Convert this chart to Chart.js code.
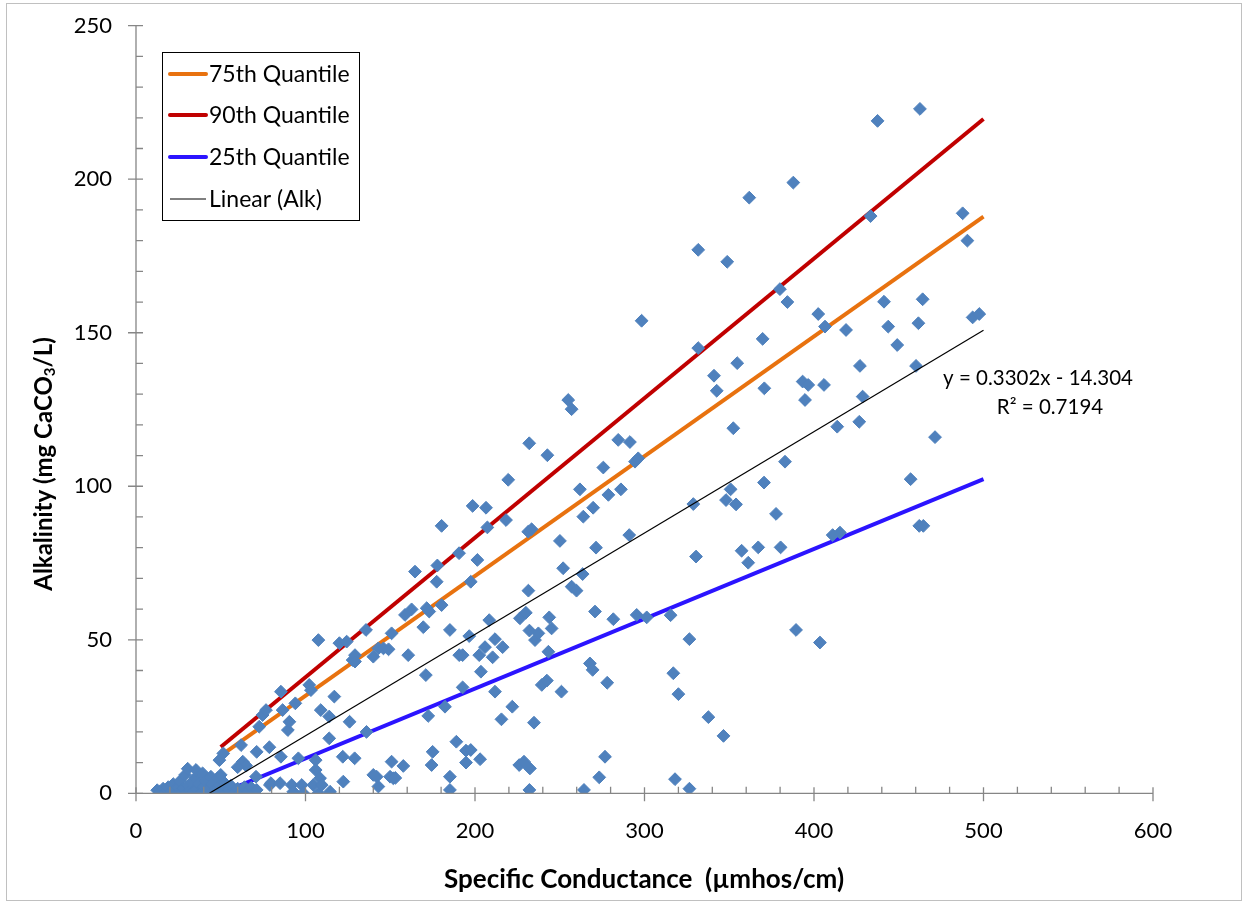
<!DOCTYPE html>
<html><head><meta charset="utf-8">
<script src="https://cdn.jsdelivr.net/npm/chart.js@4/dist/chart.umd.min.js"></script>
<style>html,body{margin:0;padding:0;background:#fff}#wrap{width:1247px;height:906px;position:relative}</style>
</head><body><div id="wrap"><canvas id="c" width="1247" height="906"></canvas></div>
<script>
// ---- data ----
const alkData = [
[12.5,1],[14,0.5],[16,1.5],[17,0],[18.5,0.8],[19,2],[20.5,0],[21,0.5],[22,3],[23,1],[24,0],[25,2],[26,4],[27,0.5],[28,1.5],[29,6],[30,0],[30.5,8],[31,2.5],[32,1],[33,3.5],[34,0.5],[35,5],[35.4,7.6],[36,1.5],[37,3],[38,0],[39.3,6.5],[40,2],[41,4],[42,0.5],[43,1.5],[44.2,5.4],[45,3],[46,0],[47,1.2],[48.2,4.9],[49,2.5],[50,0.3],[51,1.5],[52,3.5],[53,0],[55,1],[56,2.5],[58,0.3],[60,1.5],[62,0.5],[64,2],[66,0.3],[68,1.8],[71.2,1.1],
[49.2,10.8],[51.5,13],[50,6],[62,15.7],[63,10.3],[65,9],[60,8.5],[71.2,13.5],[72.7,21.7],[74.7,25.5],[76.7,27.1],[78.7,15],[70.8,5.4],[79,2.7],[79.6,3.3],[85,3.3],[85.5,33.1],[86.5,27.1],[85.5,11.9],[89.6,20.6],[90.5,23.3],[91.9,2.7],[92.8,0.5],[94,29.3],[95.8,11.4],[97.8,2.7],[98.7,0],[102.2,35.3],[103.2,33.6],[104.6,2.7],[106,10.8],[106,7.6],[107.6,49.9],[107.6,0],[108.6,4.9],[109,27.1],[109.6,2.7],[114,25],[114,17.9],[114.5,0.5],[117,31.5],[120,48.9],[122,11.9],[122.3,3.8],[124.3,49.4],[126,23.3],[127.8,43.4],[129.2,45],[129.2,42.9],[129,11.4],[136,20],[135.7,53.2],[140,44.5],[140,6],[143,47.2],[143,2.2],[142,5.4],[146,47.2],[149,46.9],[149.9,5.4],[150.8,52.1],[150.8,10.3],[151.8,4.9],[153,5],[157.7,8.9],[158.7,58.1],[162.6,59.9],[160.6,45],[164.6,72.2],[169.5,54.1],[171,38.5],[171.5,60.3],[173,59.2],[172.4,25.2],[174.4,9.2],[175,13.5],[177.8,74.2],[177.4,68.9],[180.3,61.3],[180.3,87.1],[182.3,28.2],[185.2,53.2],[185.2,5.4],[185.2,1.1],[189,16.8],[190.6,78.2],[190.7,45],[192.7,45],[192.7,34.5],[194.7,13.9],[194.7,10],[196.6,51.2],[197.5,68.9],[197.5,14.1],[198.6,93.6],[201.4,76],[202.5,45],[203.5,39.6],[203,11.1],[205.9,47.6],[206.5,93],[207.3,86.6],[208.4,56.4],[210.4,44.3],[211.8,50.2],[211.8,33.1],[215.6,24.1],[216.3,47.6],[218.3,89],[219.6,102.1],[222,28.2],[226.1,9.2],[226.5,57],[228.9,10.3],[230,58.8],[231.5,66],[231.4,85.2],[232,114],[232.1,53],[232.4,8.1],[232.1,1.1],[233.4,86],[234.8,23],[235.4,49.9],[237.4,52.1],[239.4,35.3],[242.4,36.7],[242.7,110.1],[243.3,46.1],[243.8,57.3],[245.2,53.7],[250.1,82.2],[251,33.1],[252,73.3],[255,128.1],[257,125.1],[257,67.3],[259.9,66],[261.9,99],[263.5,71.4],[263.9,90.1],[264.3,1.1],[267.8,42.3],[269.4,40.2],[269.7,93],[270.8,59.2],[271.4,80],[273.3,5.2],[275.7,106.1],[276.7,11.9],[278,36],[278.7,97.2],[281.6,56.7],[284.5,115.1],[286.1,99],[291,84.1],[291.4,114.4],[294.4,108],[295.4,58.1],[296.3,109.1],[298.3,153.9],[301.3,57.3],[315.4,58],[317,39.1],[318,4.6],[320,32.3],[326.5,50.2],[326.5,1.5],[328.8,94.2],[330.4,77.1],[331.7,177],[331.7,145],[337.7,24.8],[341,136],[342.6,131.1],[346.6,18.7],[348.1,95.5],[348.8,173.1],[350.8,99],[352.4,118.9],[354,94.1],[354.7,140.1],[357.3,79],[361.2,75.1],[361.8,194],[367.1,80.1],[369.7,148],[370.5,101.2],[370.7,131.9],[377.6,91],[379.9,164.2],[380.3,80.1],[382.9,108],[384.3,160],[387.8,198.9],[389.4,53.2],[393.3,134.1],[394.7,128.1],[396.6,133],[402.5,156.1],[403.5,49.1],[405.9,133],[406.5,152],[411,84.1],[413.7,119.4],[415.3,84.9],[418.9,150.9],[426.7,121],[427.1,139.2],[428.7,129.2],[433.4,188],[437.5,219],[441.3,160.1],[443.8,152],[449.1,146],[457,102.3],[460.2,139.2],[461.6,153.1],[462.1,87.1],[462.5,222.9],[464.1,160.9],[464.5,87.1],[471.4,116],[487.7,188.9],[490.5,180],[493.6,155],[497.5,156.1]
];
const q75Line = [[50,12.3],[500,187.8]];
const q90Line = [[50,15.1],[500,219.6]];
const q25Line = [[50,0],[500,102.3]];
const linearLine = [[43.3,0],[500,150.8]];
const seriesNames = ['75th Quantile','90th Quantile','25th Quantile','Linear (Alk)'];
const xTicks = [0,100,200,300,400,500,600];
const yTicks = [0,50,100,150,200,250];
const eqLines = ['y = 0.3302x - 14.304','R\u00B2 = 0.7194'];
const xTitle = 'Specific Conductance  (\u00B5mhos/cm)';
const yTitleParts = ['Alkalinity (mg CaCO','3','/L)'];

const FONT = 'Lato, "Open Sans", sans-serif';
const AXIS = '#868686';
const toXY = a => a.map(p => ({x:p[0], y:p[1]}));

const decor = {
  id:'decor',
  beforeDraw(chart){
    const ctx = chart.ctx;
    ctx.save();
    ctx.fillStyle = '#fff';
    ctx.fillRect(0,0,chart.width,chart.height);
    ctx.strokeStyle = '#c0c0c0';
    ctx.lineWidth = 1;
    ctx.strokeRect(6.5,3.5,1235,897);
    ctx.restore();
  },
  afterDraw(chart){
    const ctx = chart.ctx;
    const xs = chart.scales.x, ys = chart.scales.y;
    const x0 = xs.getPixelForValue(0), y0 = ys.getPixelForValue(0);
    ctx.save();
    // axis lines
    ctx.strokeStyle = AXIS; ctx.lineWidth = 1.3;
    ctx.beginPath();
    ctx.moveTo(x0, ys.getPixelForValue(250)); ctx.lineTo(x0, y0);
    ctx.lineTo(xs.getPixelForValue(600), y0);
    ctx.stroke();
    ctx.beginPath();
    for (let v = 0; v <= 600; v += 20) {
      const px = xs.getPixelForValue(v);
      if (v % 100 === 0) { ctx.moveTo(px, y0 - 6); ctx.lineTo(px, y0 + 8); }
      else { ctx.moveTo(px, y0 - 6.5); ctx.lineTo(px, y0); }
    }
    for (let v = 0; v <= 250; v += 10) {
      const py = ys.getPixelForValue(v);
      if (v % 50 === 0) { ctx.moveTo(x0 - 8, py); ctx.lineTo(x0 + 7, py); }
      else { ctx.moveTo(x0, py); ctx.lineTo(x0 + 7, py); }
    }
    ctx.stroke();

    // legend
    ctx.fillStyle = '#fff';
    ctx.fillRect(162.5,52.5,197,168);
    ctx.strokeStyle = '#000'; ctx.lineWidth = 1;
    ctx.strokeRect(162.5,52.5,197,168);
    const ys2 = [74,115,157,199];
    ctx.font = '23px ' + FONT;
    ctx.textBaseline = 'middle'; ctx.textAlign = 'left';
    [0,1,2,3].forEach((i,k) => {
      const ds = chart.data.datasets[i];
      ctx.strokeStyle = ds.borderColor;
      ctx.lineWidth = i === 3 ? 1 : 4;
      ctx.lineCap = i === 3 ? 'butt' : 'round';
      ctx.beginPath(); ctx.moveTo(170, ys2[k]); ctx.lineTo(206, ys2[k]); ctx.stroke();
      ctx.fillStyle = '#000';
      ctx.fillText(seriesNames[k], 209, ys2[k] + 1);
    });

    // trendline equation
    ctx.font = '20.5px ' + FONT;
    ctx.textAlign = 'center';
    ctx.fillText(eqLines[0], 1038, 378);
    ctx.fillText(eqLines[1], 1050, 407);

    // x title
    ctx.font = 'bold 26px ' + FONT;
    ctx.fillText(xTitle, 644, 880);

    // y title with subscript
    ctx.translate(44, 464);
    ctx.rotate(-Math.PI/2);
    const big = 'bold 24px ' + FONT, small = 'bold 15px ' + FONT;
    ctx.font = big; const w1 = ctx.measureText(yTitleParts[0]).width, w3 = ctx.measureText(yTitleParts[2]).width;
    ctx.font = small; const w2 = ctx.measureText(yTitleParts[1]).width;
    let sx = -(w1 + w2 + w3) / 2;
    ctx.textAlign = 'left';
    ctx.font = big; ctx.fillText(yTitleParts[0], sx, 0); sx += w1;
    ctx.font = small; ctx.fillText(yTitleParts[1], sx, 6); sx += w2;
    ctx.font = big; ctx.fillText(yTitleParts[2], sx, 0);
    ctx.restore();
  }
};

new Chart(document.getElementById('c'), {
  type: 'scatter',
  data: {
    datasets: [
      {label: seriesNames[0], data: toXY(q75Line), type:'line', showLine:true, borderColor:'#E8720F', borderWidth:4, pointRadius:0, order:2},
      {label: seriesNames[1], data: toXY(q90Line), type:'line', showLine:true, borderColor:'#C00000', borderWidth:4, pointRadius:0, order:2},
      {label: seriesNames[2], data: toXY(q25Line), type:'line', showLine:true, borderColor:'#2B14FF', borderWidth:4, pointRadius:0, order:2},
      {label: seriesNames[3], data: toXY(linearLine), type:'line', showLine:true, borderColor:'#000000', borderWidth:1.2, pointRadius:0, order:0},
      {label: 'Alk', data: toXY(alkData), pointStyle:'rectRot', pointRadius:6.4, backgroundColor:'#4F81BD', borderColor:'#4F81BD', borderWidth:1, order:1}
    ]
  },
  options: {
    responsive:false, animation:false, devicePixelRatio:1,
    layout:{padding:{left:0, top:25.7, right:94, bottom:0}},
    plugins:{legend:{display:false}, tooltip:{enabled:false}},
    scales:{
      x:{type:'linear', min:0, max:600,
         afterBuildTicks: s => { s.ticks = xTicks.map(v => ({value:v})); },
         ticks:{color:'#000', font:{family:FONT, size:22}, padding:24, maxRotation:0},
         grid:{display:false, drawTicks:false}, border:{display:false},
         afterFit: s => { s.height = 906 - 793.3; s.paddingLeft = 0; s.paddingRight = 0; s.paddingTop = 0; s.paddingBottom = 0; }},
      y:{type:'linear', min:0, max:250,
         afterBuildTicks: s => { s.ticks = yTicks.map(v => ({value:v})); },
         ticks:{color:'#000', font:{family:FONT, size:22}, padding:24},
         grid:{display:false, drawTicks:false}, border:{display:false},
         afterFit: s => { s.width = 136; s.paddingTop = 0; s.paddingBottom = 0; s.paddingLeft = 0; s.paddingRight = 0; }}
    }
  },
  plugins:[decor]
});
</script></body></html>
